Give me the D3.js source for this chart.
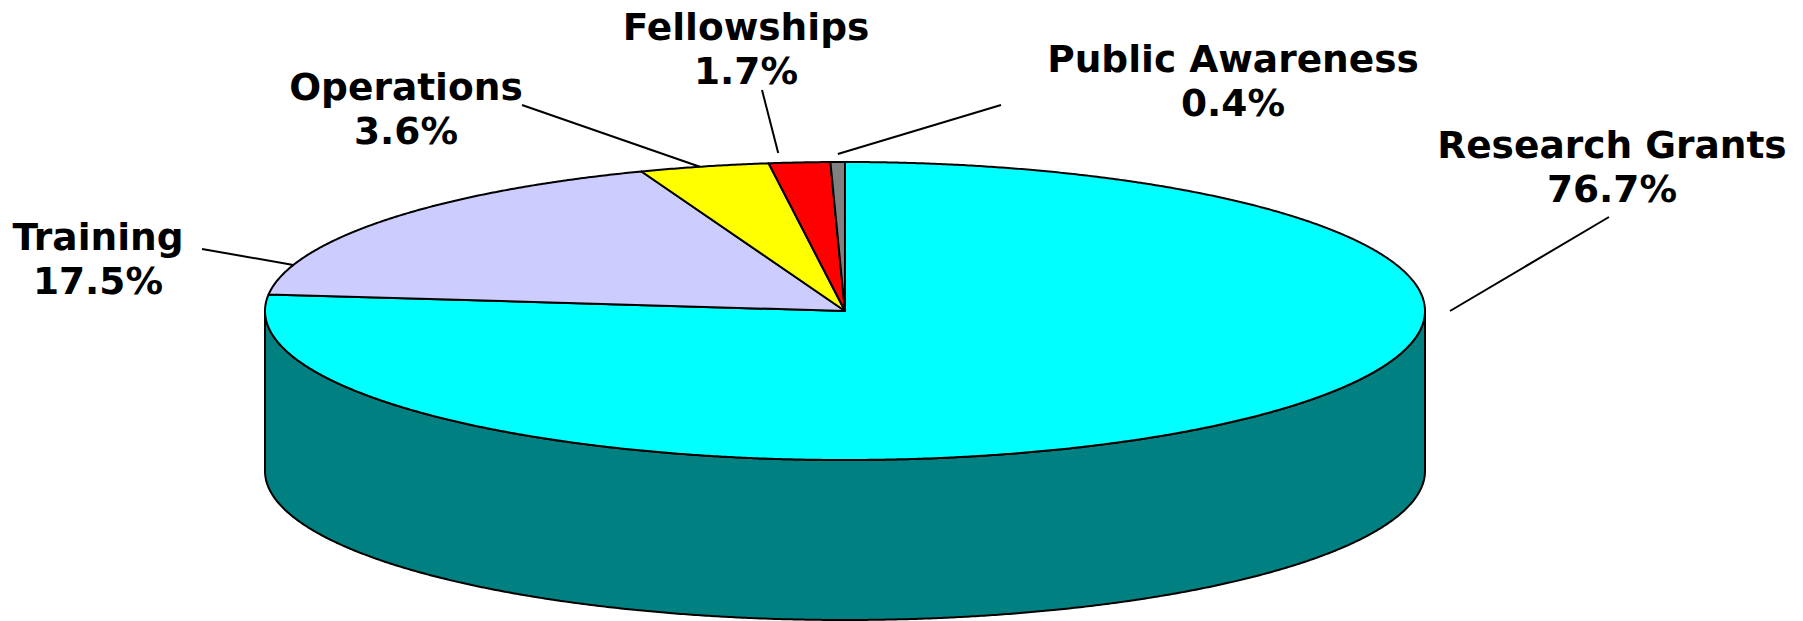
<!DOCTYPE html>
<html>
<head>
<meta charset="utf-8">
<script src="https://cdn.jsdelivr.net/npm/d3@7"></script>
<style>
  html, body { margin: 0; padding: 0; background: #fff; }
  svg { display: block; }
  .lbl { font-family: Verdana, "DejaVu Sans", sans-serif; font-weight: bold; font-size: 37.5px; fill: #000; }
</style>
</head>
<body>
<script>
// slices, clockwise from 12 o'clock
var categories = ["Research Grants", "Training", "Operations", "Fellowships", "Public Awareness"];
var shares = [76.7, 17.5, 3.6, 1.7, 0.4];
var colors = ["#00ffff", "#ccccff", "#ffff00", "#ff0000", "#808080"];
var sideColor = "#008080";

// label layout: text anchor (first baseline), leader outer end, leader angle on the pie (deg) + push out
var labelAt = [[1612, 158], [98, 250], [406, 100], [746, 40], [1233, 72]];
var leaderFrom = [[1609, 217], [202, 249], [522, 105], [762, 90], [1001, 105]];
var leaderAngle = [90, 288, 345.5, 353.5, 359.3];
var leaderPush = [25, 0, 0, 10, 8];

var W = 1803, H = 621;
var cx = 845, cy = 311, rx = 580, ry = 149, depth = 160;

var svg = d3.select("body").append("svg")
  .attr("width", W).attr("height", H);

var pie = d3.pie().sort(null).value(function(d) { return d; });
var arcs = pie(shares);

var pt = function(a, dy, push) {
  push = push || 0;
  return [cx + (rx + push) * Math.sin(a), cy - (ry + push) * Math.cos(a) + (dy || 0)];
};

var arcPts = function(a0, a1, dy) {
  var n = Math.max(2, Math.ceil(Math.abs(a1 - a0) / 0.005)), out = [], i;
  for (i = 0; i <= n; i++) out.push(pt(a0 + (a1 - a0) * i / n, dy));
  return out;
};

var line = d3.line();

// side wall (only the front half shows)
arcs.forEach(function(d) {
  var lo = Math.max(d.startAngle, Math.PI / 2), hi = Math.min(d.endAngle, 3 * Math.PI / 2);
  if (lo >= hi) return;
  var p = arcPts(lo, hi, 0).concat(arcPts(hi, lo, depth));
  svg.append("path")
    .attr("d", line(p) + "Z")
    .attr("fill", sideColor)
    .attr("stroke", "#000")
    .attr("stroke-width", 2)
    .attr("stroke-linejoin", "round");
});

// top face
svg.selectAll("path.slice").data(arcs).enter().append("path")
  .attr("class", "slice")
  .attr("d", function(d) {
    return line([[cx, cy]].concat(arcPts(d.startAngle, d.endAngle, 0))) + "Z";
  })
  .attr("fill", function(d, i) { return colors[i]; })
  .attr("stroke", "#000")
  .attr("stroke-width", 2)
  .attr("stroke-linejoin", "round");

// leaders
arcs.forEach(function(d, i) {
  var end = pt(leaderAngle[i] * Math.PI / 180, 0, leaderPush[i]);
  svg.append("line")
    .attr("x1", leaderFrom[i][0]).attr("y1", leaderFrom[i][1])
    .attr("x2", end[0]).attr("y2", end[1])
    .attr("stroke", "#000")
    .attr("stroke-width", 2);
});

// labels
var lbl = svg.selectAll("text.lbl").data(arcs).enter().append("text")
  .attr("class", "lbl")
  .attr("text-anchor", "middle")
  .attr("x", function(d, i) { return labelAt[i][0]; })
  .attr("y", function(d, i) { return labelAt[i][1]; });
lbl.append("tspan")
  .attr("x", function(d, i) { return labelAt[i][0]; })
  .text(function(d, i) { return categories[i]; });
lbl.append("tspan")
  .attr("x", function(d, i) { return labelAt[i][0]; })
  .attr("dy", 44)
  .text(function(d) { return d.data.toFixed(1) + "%"; });
</script>
</body>
</html>
